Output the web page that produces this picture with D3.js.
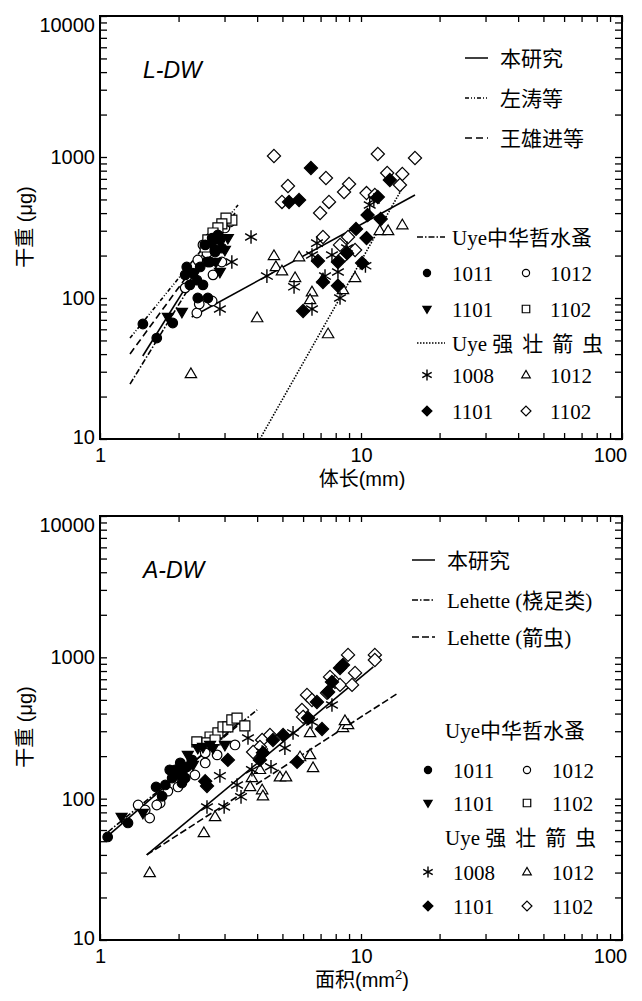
<!DOCTYPE html>
<html>
<head>
<meta charset="utf-8" />
<title>L-DW / A-DW</title>
<style>
html, body { margin: 0; padding: 0; background: #fff; }
svg { display: block; }
</style>
</head>
<body>
<svg id="chart" width="642" height="1001"></svg>
<script src="https://cdn.jsdelivr.net/npm/d3@7/dist/d3.min.js"></script>
<script>

// 轴刻度
var xTickValues = [1, 10, 100];
var yTickValues = [10, 100, 1000, 10000];

// L-DW 中华哲水蚤 [体长 mm, 干重 μg]
var ldwC1011 = [[1.46,65.4],[1.65,52.0],[1.90,66.5],[2.15,166],[2.27,150],[2.37,100],[2.59,100],[2.48,124],[2.35,134],[2.12,146],[2.64,180],[2.76,219],[2.88,258],[2.53,238],[2.76,212],[2.59,180],[2.42,166],[2.83,280],[2.69,266],[2.93,226],[2.21,124]];
var ldwC1012 = [[2.12,118],[2.35,78.3],[2.40,90.7],[2.69,95.2],[2.71,146],[2.93,180],[2.37,186],[2.57,208],[2.48,238],[2.81,294],[3.01,314],[2.64,266],[3.15,346]];
var ldwC1101 = [[1.82,73.3],[2.06,79.6],[2.88,153],[2.78,180],[3.01,219],[2.69,238],[3.09,266]];
var ldwC1102 = [[3.20,357],[3.04,369],[2.93,335],[2.83,314],[2.71,289],[2.59,258],[2.53,230]];
// L-DW 强壮箭虫
var ldwS1008 = [[3.79,271],[3.20,180],[2.88,83.6],[4.36,143],[5.54,120],[6.49,83.6],[6.78,245],[6.49,202],[7.74,202],[8.84,226],[7.28,143],[8.16,153],[8.31,100],[10.4,169],[10.8,457],[11.2,495]];
var ldwS1012 = [[2.23,28.9],[4.00,72.1],[4.64,199],[4.72,166],[4.98,155],[5.79,195],[5.59,139],[6.49,110],[6.38,96.8],[7.48,55.5],[9.49,139],[7.15,136],[8.53,114],[11.8,299],[12.7,299],[14.4,329]];
var ldwS1101 = [[6.43,836],[5.30,480],[5.79,495],[12.9,687],[11.6,520],[10.6,388],[11.9,363],[9.57,309],[10.5,266],[8.84,208],[6.84,183],[8.16,180],[10.1,177],[7.15,130],[8.16,122],[6.00,80.9]];
var ldwS1102 = [[4.64,1016],[5.25,623],[4.98,480],[7.34,710],[7.54,480],[6.97,401],[9.00,643],[8.61,565],[10.5,555],[11.3,538],[11.6,1050],[16.1,984],[12.6,770],[14.4,758],[14.1,633],[7.15,271],[8.92,271],[8.31,238],[9.49,219],[8.68,202]];

// A-DW 中华哲水蚤 [面积 mm2, 干重 μg]
var adwC1011 = [[1.07,53.6],[1.28,67.3],[1.64,121],[1.73,104],[1.89,140],[2.03,179],[1.94,160],[1.85,160],[1.99,147],[2.08,160],[2.15,168],[2.25,188],[2.12,140],[2.06,129],[1.78,125]];
var adwC1012 = [[1.40,90.2],[1.82,113],[1.70,93.2],[1.65,90.2],[1.99,121],[2.53,179],[2.53,211],[2.81,204],[1.55,73.0],[1.49,83.2],[2.31,147],[3.29,240]];
var adwC1101 = [[1.21,74.2],[1.46,79.2],[2.17,204],[2.37,228],[2.48,232],[2.64,240],[2.71,228],[3.01,240],[2.27,173]];
var adwC1102 = [[2.35,252],[2.64,273],[2.83,292],[2.96,322],[3.09,322],[3.20,361],[3.35,372],[3.59,327],[2.57,248],[2.76,260]];
// A-DW 强壮箭虫
var adwS1008 = [[3.69,269],[2.88,145],[2.57,87.4],[2.99,87.4],[3.47,103],[3.35,125],[3.82,160],[4.52,168],[5.11,228],[5.49,292],[7.74,460],[6.49,349],[4.18,214]];
var adwS1012 = [[1.55,29.8],[2.50,57.2],[2.76,74.2],[3.82,140],[4.18,115],[4.21,104],[4.10,160],[4.89,142],[5.16,142],[3.76,121],[6.38,204],[6.55,165],[5.84,197],[6.38,292],[8.53,317],[8.92,332],[8.68,355]];
var adwS1101 = [[3.09,188],[2.53,133],[2.57,123],[5.03,282],[4.60,260],[4.10,188],[4.21,211],[6.27,372],[7.09,311],[5.69,182],[8.31,841],[8.53,884],[7.74,670],[7.48,569],[6.78,483]];
var adwS1102 = [[8.92,1040],[11.3,1040],[11.3,958],[7.61,727],[7.95,670],[8.31,638],[9.49,776],[9.24,638],[7.41,560],[6.21,542],[6.49,499],[5.94,424],[6.00,379],[4.48,282],[4.18,260],[4.10,232],[3.86,214]];

// 回归线 (两端点)
var ldwFitThisCop = [[1.458,38.8],[3.09,357]];
var ldwFitZuo     = [[1.303,52.0],[3.38,457]];
var ldwFitWang    = [[1.303,40.1],[3.20,388]];
var ldwFitUyeCop  = [[1.303,24.5],[3.29,401]];
var ldwFitThisSag = [[2.245,73.3],[16.1,538]];
var ldwFitUyeSag  = [[4.10,10],[14.5,616]];

var adwFitThisCop = [[1.061,53.6],[3.44,349]];
var adwFitLehCop  = [[1.073,58.1],[4.0,425]];
var adwFitThisSag = [[1.51,40.0],[11.15,855]];
var adwFitLehSag  = [[1.51,40.0],[13.9,560]];

var sansFont = "'Liberation Sans', Arial, sans-serif";
var serifFont = "'Liberation Serif', 'Times New Roman', serif";
var cjkFont = "'Noto Sans CJK SC', sans-serif";

var dashZuo = "4,2,1,2,1,2", dashWang = "7,4", dashDashDot = "6,2,1.5,2", dashDot = "1.5,1.5", dashLehSag = "7,3";

var svg = d3.select("#chart");
svg.append("rect").attr("width", 642).attr("height", 1001).attr("fill", "#fff");

var left = 100, right = 622;

// 符号
function shapePath(type, s) {
	if (type == "circle") return d3.symbol(d3.symbolCircle, Math.PI * s * s)();
	if (type == "tridown") return "M" + (-s) + "," + (-s * 0.65) + "L" + s + "," + (-s * 0.65) + "L0," + (s * 1.05) + "Z";
	if (type == "triup") return "M" + (-s) + "," + (s * 0.65) + "L" + s + "," + (s * 0.65) + "L0," + (-s * 1.05) + "Z";
	if (type == "square") return "M" + (-s) + "," + (-s) + "h" + (2 * s) + "v" + (2 * s) + "h" + (-2 * s) + "Z";
	if (type == "diamond") return "M0," + (-s * 1.2) + "L" + (s * 1.2) + ",0L0," + (s * 1.2) + "L" + (-s * 1.2) + ",0Z";
	if (type == "star") {
		var p = "";
		[90, 30, -30].forEach(function(a) {
			var t = a * Math.PI / 180, dx = s * Math.cos(t), dy = s * Math.sin(t);
			p += "M" + (-dx) + "," + (-dy) + "L" + dx + "," + dy;
		});
		return p;
	}
}
var markSize = { circle: 4.8, tridown: 5.5, triup: 5.7, square: 5, diamond: 5.5, star: 6.8 };

function drawMark(g, type, filled, cx, cy, scale) {
	g.append("path")
		.attr("d", shapePath(type, markSize[type] * scale))
		.attr("transform", "translate(" + cx + "," + cy + ")")
		.attr("fill", type == "star" ? "none" : (filled ? "#000" : "#fff"))
		.attr("stroke", "#000")
		.attr("stroke-width", type == "star" ? 1.4 : 1.2);
}

function drawPanel(p) {
	var g = svg.append("g");
	var x = d3.scaleLog().domain([1, 100]).range([left, right]);
	var y = d3.scaleLog().domain([10, 10000]).range([p.bottom, p.top]);

	var isMajor = function(v, list) { return list.some(function(t) { return Math.abs(t - v) < 1e-6; }); };

	// 坐标轴 (刻度向内)
	var ax = g.append("g").attr("transform", "translate(0," + p.bottom + ")")
		.call(d3.axisBottom(x).tickValues(x.ticks()).tickSize(-6).tickPadding(9)
			.tickFormat(function(d) { return isMajor(d, xTickValues) ? d : ""; }));
	ax.selectAll("text").attr("dx", function(d) { return d == 100 ? -12 : 0; });
	var ay = g.append("g").attr("transform", "translate(" + left + ",0)")
		.call(d3.axisLeft(y).tickValues(y.ticks()).tickSize(-7).tickPadding(5)
			.tickFormat(function(d) { return isMajor(d, yTickValues) ? d : ""; }));
	ay.selectAll("text").attr("dy", function(d) { return d == 10000 ? "0.75em" : (d == 10 ? "0.22em" : "0.32em"); });
	g.append("g").attr("transform", "translate(0," + p.top + ")")
		.call(d3.axisTop(x).tickValues(x.ticks()).tickSize(-6).tickFormat(""));
	g.append("g").attr("transform", "translate(" + right + ",0)")
		.call(d3.axisRight(y).tickValues(y.ticks()).tickSize(-7).tickFormat(""));
	g.selectAll(".domain").remove();
	g.selectAll(".tick line").attr("stroke-width", 1.3);
	g.selectAll(".tick text").attr("font-family", sansFont).attr("font-size", 20).attr("fill", "#000");

	g.append("rect").attr("x", left).attr("y", p.top)
		.attr("width", right - left).attr("height", p.bottom - p.top)
		.attr("fill", "none").attr("stroke", "#000").attr("stroke-width", 2);

	// 回归线
	var line = d3.line().x(function(d) { return x(d[0]); }).y(function(d) { return y(d[1]); });
	p.fits.forEach(function(f) {
		g.append("path").datum(f.data).attr("d", line)
			.attr("fill", "none").attr("stroke", "#000").attr("stroke-width", 1.6)
			.attr("stroke-dasharray", f.dash);
	});

	// 散点
	p.series.forEach(function(s) {
		s.data.forEach(function(d) { drawMark(g, s.type, s.fill, x(d[0]), y(d[1]), 1); });
	});

	// 面板标题
	g.append("text").attr("x", 143).attr("y", p.top + 62)
		.attr("font-family", sansFont).attr("font-style", "italic").attr("font-size", 23)
		.text(p.label);

	// y 轴标题
	var yt = g.append("text").attr("transform", "translate(32," + (p.top + 211) + ") rotate(-90)")
		.attr("text-anchor", "middle").attr("font-size", 20);
	yt.append("tspan").attr("font-family", cjkFont).text("干重");
	yt.append("tspan").attr("font-family", sansFont).text(" (μg)");

	// x 轴标题
	var xt = g.append("text").attr("x", 362).attr("y", p.bottom + 47)
		.attr("text-anchor", "middle").attr("font-size", 20);
	xt.append("tspan").attr("font-family", cjkFont).text(p.xTitle);
	xt.append("tspan").attr("font-family", sansFont).text("(mm");
	if (p.sup) {
		xt.append("tspan").attr("font-family", sansFont).attr("font-size", 13).attr("dy", -8).text("2");
		xt.append("tspan").attr("font-family", sansFont).attr("dy", 8).text(")");
	} else {
		xt.append("tspan").attr("font-family", sansFont).text(")");
	}

	// 图例
	p.legendLines.forEach(function(l) {
		if (l.x1 != null) {
			g.append("line").attr("x1", l.x1).attr("x2", l.x2).attr("y1", l.y).attr("y2", l.y)
				.attr("stroke", "#000").attr("stroke-width", 1.5).attr("stroke-dasharray", l.dash);
		}
		var t = g.append("text").attr("x", l.tx).attr("y", l.y).attr("dy", "0.36em").attr("font-size", 21);
		l.parts.forEach(function(pt) {
			var ts = t.append("tspan").attr("font-family", pt[1] == "cjk" ? cjkFont : serifFont).text(pt[0]);
			if (pt[2]) ts.attr("letter-spacing", pt[2]);
		});
	});
	p.legendRows.forEach(function(r) {
		r.marks.forEach(function(m, i) {
			var mx = i == 0 ? p.legX[0] : p.legX[2];
			var tx = i == 0 ? p.legX[1] : p.legX[3];
			drawMark(g, m[0], m[1], mx, r.y, m[0] == "star" ? 0.8 : 0.75);
			g.append("text").attr("x", tx).attr("y", r.y).attr("dy", "0.36em")
				.attr("font-family", serifFont).attr("font-size", 21).text(m[2]);
		});
	});
}

var copMarks = [["circle", true, "1011"], ["circle", false, "1012"], ["tridown", true, "1101"], ["square", false, "1102"]];
var sagMarks = [["star", false, "1008"], ["triup", false, "1012"], ["diamond", true, "1101"], ["diamond", false, "1102"]];

drawPanel({
	top: 16, bottom: 439, label: "L-DW", xTitle: "体长", sup: false,
	fits: [
		{ data: ldwFitZuo, dash: dashZuo },
		{ data: ldwFitWang, dash: dashWang },
		{ data: ldwFitUyeCop, dash: dashDashDot },
		{ data: ldwFitThisCop, dash: null },
		{ data: ldwFitThisSag, dash: null },
		{ data: ldwFitUyeSag, dash: dashDot }
	],
	series: [
		{ data: ldwC1012, type: "circle", fill: false },
		{ data: ldwC1102, type: "square", fill: false },
		{ data: ldwC1011, type: "circle", fill: true },
		{ data: ldwC1101, type: "tridown", fill: true },
		{ data: ldwS1012, type: "triup", fill: false },
		{ data: ldwS1102, type: "diamond", fill: false },
		{ data: ldwS1101, type: "diamond", fill: true },
		{ data: ldwS1008, type: "star", fill: false }
	],
	legendLines: [
		{ y: 58, x1: 465, x2: 488, dash: null, tx: 500, parts: [["本研究", "cjk"]] },
		{ y: 98, x1: 465, x2: 488, dash: dashZuo, tx: 500, parts: [["左涛等", "cjk"]] },
		{ y: 138, x1: 465, x2: 488, dash: dashWang, tx: 500, parts: [["王雄进等", "cjk"]] },
		{ y: 237, x1: 417, x2: 445, dash: dashDashDot, tx: 452, parts: [["Uye", "serif"], ["中华哲水蚤", "cjk"]] },
		{ y: 343, x1: 417, x2: 445, dash: dashDot, tx: 452, parts: [["Uye ", "serif"], ["强壮箭虫", "cjk", 9]] }
	],
	legX: [427, 452, 526, 550],
	legendRows: [
		{ y: 273, marks: copMarks.slice(0, 2) },
		{ y: 309, marks: copMarks.slice(2, 4) },
		{ y: 375, marks: sagMarks.slice(0, 2) },
		{ y: 411, marks: sagMarks.slice(2, 4) }
	]
});

drawPanel({
	top: 516, bottom: 940, label: "A-DW", xTitle: "面积", sup: true,
	fits: [
		{ data: adwFitLehCop, dash: dashDashDot },
		{ data: adwFitThisCop, dash: null },
		{ data: adwFitThisSag, dash: null },
		{ data: adwFitLehSag, dash: dashLehSag }
	],
	series: [
		{ data: adwC1012, type: "circle", fill: false },
		{ data: adwC1102, type: "square", fill: false },
		{ data: adwC1011, type: "circle", fill: true },
		{ data: adwC1101, type: "tridown", fill: true },
		{ data: adwS1012, type: "triup", fill: false },
		{ data: adwS1102, type: "diamond", fill: false },
		{ data: adwS1101, type: "diamond", fill: true },
		{ data: adwS1008, type: "star", fill: false }
	],
	legendLines: [
		{ y: 560, x1: 412, x2: 435, dash: null, tx: 447, parts: [["本研究", "cjk"]] },
		{ y: 600, x1: 412, x2: 435, dash: dashDashDot, tx: 447, parts: [["Lehette (", "serif"], ["桡足类", "cjk"], [")", "serif"]] },
		{ y: 637, x1: 412, x2: 435, dash: dashLehSag, tx: 447, parts: [["Lehette (", "serif"], ["箭虫", "cjk"], [")", "serif"]] },
		{ y: 730, x1: null, tx: 445, parts: [["Uye", "serif"], ["中华哲水蚤", "cjk"]] },
		{ y: 837, x1: null, tx: 445, parts: [["Uye ", "serif"], ["强壮箭虫", "cjk", 9]] }
	],
	legX: [428, 453, 527, 552],
	legendRows: [
		{ y: 770, marks: copMarks.slice(0, 2) },
		{ y: 803, marks: copMarks.slice(2, 4) },
		{ y: 872, marks: sagMarks.slice(0, 2) },
		{ y: 906, marks: sagMarks.slice(2, 4) }
	]
});

</script>
</body>
</html>
